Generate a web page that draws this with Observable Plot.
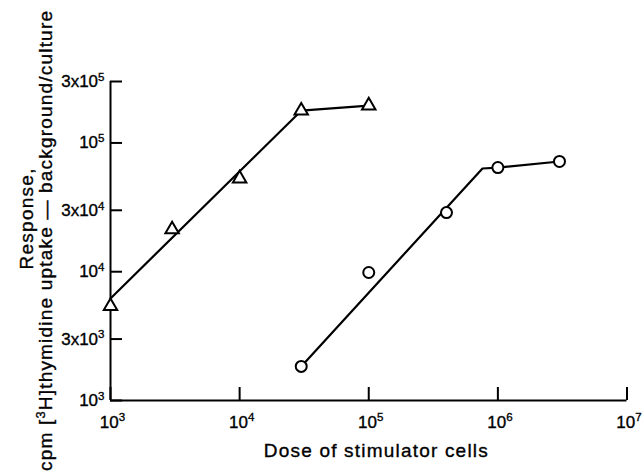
<!DOCTYPE html>
<html>
<head>
<meta charset="utf-8">
<script src="https://cdn.jsdelivr.net/npm/d3@7"></script>
<script src="https://cdn.jsdelivr.net/npm/@observablehq/plot@0.6"></script>
<style>
  html, body { margin: 0; padding: 0; background: #fff; }
  svg text { paint-order: stroke; stroke: #000; stroke-width: 0.35px; }
</style>
</head>
<body>
<div id="chart"></div>
<script>
// ---- data ----
const triangleDose = [1e3, 3e3, 1e4, 3e4, 1e5];
const triangleResponse = [5400, 21300, 52900, 178000, 195000];
const circleDose = [3e4, 1e5, 4e5, 1e6, 3e6];
const circleResponse = [1840, 9860, 28800, 64400, 71800];
// hand-drawn fitted lines
const triangleFitDose = [1e3, 3e4, 1e5];
const triangleFitResponse = [6200, 178000, 195000];
const circleFitDose = [3e4, 7.6e5, 1e6, 3e6];
const circleFitResponse = [1840, 63300, 64400, 71800];
// axes
const xTicks = [1e3, 1e4, 1e5, 1e6, 1e7];
const xTickLabels = ["10^{3}", "10^{4}", "10^{5}", "10^{6}", "10^{7}"];
const yTicks = [1e3, 3e3, 1e4, 3e4, 1e5, 3e5];
const yTickLabels = ["10^{3}", "3x10^{3}", "10^{4}", "3x10^{4}", "10^{5}", "3x10^{5}"];
const xTitle = "Dose of stimulator cells";
const yTitle1 = "Response,";
const yTitle2 = "cpm [^{3}H]thymidine uptake — background/culture";

// ---- tables built from the arrays ----
const triangles = triangleDose.map((x, i) => ({x, y: triangleResponse[i]}));
const circles = circleDose.map((x, i) => ({x, y: circleResponse[i]}));
const triangleFit = triangleFitDose.map((x, i) => ({x, y: triangleFitResponse[i]}));
const circleFit = circleFitDose.map((x, i) => ({x, y: circleFitResponse[i]}));
const xLabelOf = new Map(xTicks.map((t, i) => [t, xTickLabels[i]]));
const yLabelOf = new Map(yTicks.map((t, i) => [t, yTickLabels[i]]));

const FONT = "'Liberation Sans', Arial, Helvetica, sans-serif";

const chart = Plot.plot({
  width: 642,
  height: 473,
  marginLeft: 110,
  marginRight: 15.5,
  marginTop: 81,
  marginBottom: 73,
  style: {fontFamily: FONT, fontSize: "17px", color: "#000", background: "#fff", overflow: "visible"},
  x: {type: "log", domain: [1e3, 1e7]},
  y: {type: "log", domain: [1e3, 3e5]},
  marks: [
    // axis lines
    Plot.ruleX([1e3], {stroke: "#000", strokeWidth: 2}),
    Plot.ruleY([1e3], {stroke: "#000", strokeWidth: 2}),
    // inward ticks
    Plot.axisX({ticks: xTicks, tickSize: -13, strokeWidth: 2, tickFormat: () => "", label: null}),
    Plot.axisY({ticks: yTicks, tickSize: -12, strokeWidth: 2, tickFormat: () => "", label: null}),
    // tick labels
    Plot.axisX({ticks: xTicks, tickSize: 0, tickPadding: 15, dx: 2, tickFormat: d => xLabelOf.get(d), label: null, fontSize: 17}),
    Plot.axisY({ticks: yTicks, tickSize: 0, tickPadding: 6, tickFormat: d => yLabelOf.get(d), label: null, fontSize: 17}),
    // fitted lines
    Plot.line(triangleFit, {x: "x", y: "y", stroke: "#000", strokeWidth: 2.2}),
    Plot.line(circleFit, {x: "x", y: "y", stroke: "#000", strokeWidth: 2.2}),
    // data points
    Plot.dot(triangles, {x: "x", y: "y", symbol: "triangle", r: 5, stroke: "#000", strokeWidth: 2, fill: "#fff"}),
    Plot.dot(circles, {x: "x", y: "y", r: 5.5, stroke: "#000", strokeWidth: 2, fill: "#fff"}),
    // axis titles
    Plot.text([xTitle], {frameAnchor: "bottom", textAnchor: "middle", dx: 7, dy: 56, fontSize: 19}),
    Plot.text([yTitle1], {frameAnchor: "left", textAnchor: "middle", rotate: -90, dx: -84, dy: -22, fontSize: 19}),
    Plot.text([yTitle2], {frameAnchor: "left", textAnchor: "middle", rotate: -90, dx: -65, dy: 0, fontSize: 19})
  ]
});

document.getElementById("chart").appendChild(chart);

// superscripts: "a^{b}c" -> tspans
function supify(el) {
  const raw = el.textContent;
  if (!raw.includes("^{")) return;
  const size = parseFloat(getComputedStyle(el).fontSize) || 17;
  const supSize = size * 0.68, rise = size * 0.36;
  const parts = raw.split(/\^\{([^}]*)\}/);
  el.textContent = "";
  let raised = false;
  parts.forEach((p, i) => {
    if (i % 2 === 1) {
      const ts = document.createElementNS("http://www.w3.org/2000/svg", "tspan");
      ts.setAttribute("font-size", supSize);
      ts.setAttribute("dy", -rise);
      ts.textContent = p;
      el.appendChild(ts);
      raised = true;
    } else if (p) {
      const ts = document.createElementNS("http://www.w3.org/2000/svg", "tspan");
      if (raised) ts.setAttribute("dy", rise);
      ts.textContent = p;
      el.appendChild(ts);
      raised = false;
    }
  });
}

const lengths = new Map([[xTitle, 224], [yTitle1, 101], [yTitle2, 460]]);
d3.select(chart).selectAll("text").each(function () {
  const raw = this.textContent;
  if (lengths.has(raw)) {
    this.setAttribute("textLength", lengths.get(raw));
    this.setAttribute("lengthAdjust", "spacing");
  }
  supify(this);
});
</script>
</body>
</html>
